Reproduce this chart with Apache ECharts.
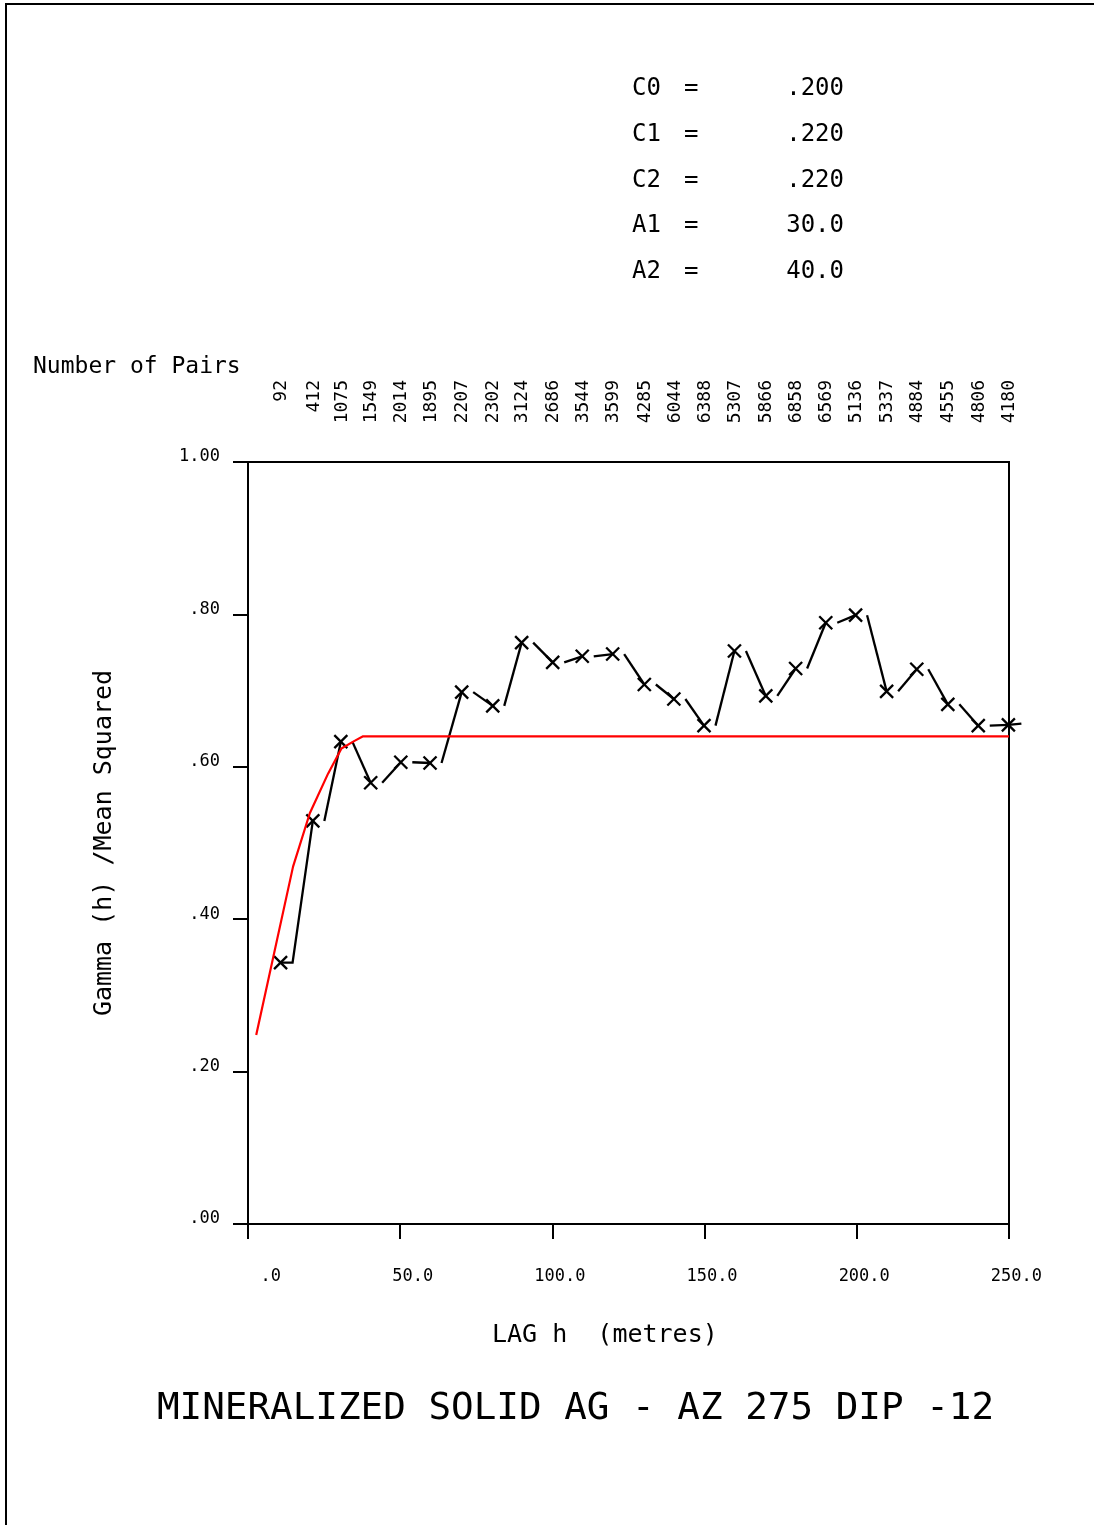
<!DOCTYPE html>
<html>
<head>
<meta charset="utf-8">
<script src="https://cdn.jsdelivr.net/npm/echarts@6/dist/echarts.min.js"></script>
<style>
html,body{margin:0;padding:0;background:#fff;}
#chart{width:1094px;height:1525px;}
</style>
</head>
<body>
<div id="chart"></div>
<script>
// ---- data ----
const lags = [10.7, 21.3, 30.5, 40.3, 50.2, 59.8, 70.2, 80.4, 89.9, 100.1, 109.8, 119.8, 130.2, 139.9, 149.8, 159.8, 170.1, 179.9, 189.8, 199.6, 209.8, 219.7, 229.9, 239.9, 249.8];
const gammas = [0.343, 0.529, 0.633, 0.579, 0.606, 0.605, 0.698, 0.680, 0.763, 0.737, 0.745, 0.748, 0.708, 0.689, 0.654, 0.752, 0.693, 0.729, 0.789, 0.799, 0.699, 0.728, 0.682, 0.654, 0.655];
const pairs = ['92', '412', '1075', '1549', '2014', '1895', '2207', '2302', '3124', '2686', '3544', '3599', '4285', '6044', '6388', '5307', '5866', '6858', '6569', '5136', '5337', '4884', '4555', '4806', '4180'];
const modelLags = [2.7, 14.8, 20.3, 26.3, 30.7, 35.0, 37.8, 250];
const modelGammas = [0.248, 0.469, 0.539, 0.591, 0.624, 0.634, 0.640, 0.640];
const xTickLabels = ['.0', '50.0', '100.0', '150.0', '200.0', '250.0'];
const yTickLabels = ['.00', '.20', '.40', '.60', '.80', '1.00'];
const paramNames = ['C0', 'C1', 'C2', 'A1', 'A2'];
const paramValues = ['.200', '.220', '.220', '30.0', '40.0'];
const titleText = 'MINERALIZED SOLID AG - AZ 275 DIP -12';
const xAxisTitle = 'LAG h  (metres)';
const yAxisTitle = 'Gamma (h) /Mean Squared';
const pairsTitle = 'Number of Pairs';

const FONT = 'DejaVu Sans Mono';
const chart = echarts.init(document.getElementById('chart'));

const pointData = lags.map((l, i) => [l, gammas[i]]);
const modelData = modelLags.map((l, i) => [l, modelGammas[i]]);
const pairData = lags.map((l) => [l, 1]);

const graphics = [
  { type: 'rect', shape: { x: 6, y: 4, width: 1200, height: 1600 }, style: { fill: 'none', stroke: '#000', lineWidth: 2 }, silent: true },
  { type: 'text', left: 33, top: 356, style: { text: pairsTitle, font: '23px "' + FONT + '"', fill: '#000' } },
  { type: 'text', left: 492, top: 1323, style: { text: xAxisTitle, font: '25px "' + FONT + '"', fill: '#000' } },
  { type: 'text', left: 157, top: 1390, style: { text: titleText, font: '37.6px "' + FONT + '"', fill: '#000' } }
];
paramNames.forEach((n, i) => {
  const y = 89 + i * 45.75;
  graphics.push({ type: 'text', x: 632, y: y, style: { text: n, font: '24px "' + FONT + '"', fill: '#000', verticalAlign: 'middle', align: 'left' } });
  graphics.push({ type: 'text', x: 684, y: y, style: { text: '=', font: '24px "' + FONT + '"', fill: '#000', verticalAlign: 'middle', align: 'left' } });
  graphics.push({ type: 'text', x: 844, y: y, style: { text: paramValues[i], font: '24px "' + FONT + '"', fill: '#000', verticalAlign: 'middle', align: 'right' } });
});

const option = {
  backgroundColor: '#fff',
  animation: false,
  textStyle: { fontFamily: FONT, color: '#000' },
  grid: { left: 248, top: 462, right: 85, bottom: 301, show: true, borderColor: '#000', borderWidth: 2, backgroundColor: 'transparent' },
  xAxis: {
    type: 'value', min: 0, max: 250, interval: 50,
    axisLine: { lineStyle: { color: '#000', width: 2 } },
    axisTick: { length: 15, lineStyle: { color: '#000', width: 2 } },
    splitLine: { show: false },
    axisLabel: {
      margin: 44, fontSize: 17, fontFamily: FONT, color: '#000', align: 'center',
      formatter: (v) => '{a|' + xTickLabels[Math.round(v / 50)] + '}',
      rich: { a: { width: 66, align: 'right', fontSize: 17, fontFamily: FONT, color: '#000' } }
    }
  },
  yAxis: {
    type: 'value', min: 0, max: 1, interval: 0.2,
    name: yAxisTitle, nameLocation: 'middle', nameRotate: 90, nameGap: 131,
    nameTextStyle: { fontSize: 25, fontFamily: FONT, color: '#000' },
    axisLine: { show: true, lineStyle: { color: '#000', width: 2 } },
    axisTick: { show: true, length: 15, lineStyle: { color: '#000', width: 2 } },
    splitLine: { show: false },
    axisLabel: {
      margin: 28, fontSize: 17, fontFamily: FONT, color: '#000', verticalAlign: 'bottom', lineHeight: 10,
      formatter: (v) => yTickLabels[Math.round(v / 0.2)]
    }
  },
  series: [
    {
      type: 'custom',
      name: 'experimental',
      data: pointData,
      z: 3,
      clip: false,
      renderItem: function (params, api) {
        const i = params.dataIndex;
        const p = api.coord([api.value(0), api.value(1)]);
        const s = 6.5;
        const st = { stroke: '#000', lineWidth: 2.3, fill: 'none' };
        const children = [
          { type: 'line', shape: { x1: p[0] - s, y1: p[1] - s, x2: p[0] + s, y2: p[1] + s }, style: st },
          { type: 'line', shape: { x1: p[0] - s, y1: p[1] + s, x2: p[0] + s, y2: p[1] - s }, style: st }
        ];
        if (i < lags.length - 1) {
          const q = api.coord([lags[i + 1], gammas[i + 1]]);
          if (i === 0) {
            children.push({ type: 'polyline', shape: { points: [p, [p[0] + 12, p[1]], q] }, style: st });
          } else {
            children.push({ type: 'line', shape: { x1: p[0] + 11.5, y1: p[1], x2: q[0], y2: q[1] }, style: st });
          }
        } else {
          children.push({ type: 'line', shape: { x1: p[0], y1: p[1], x2: p[0] + 13, y2: p[1] - 1.3 }, style: st });
        }
        return { type: 'group', children: children };
      }
    },
    {
      type: 'line',
      name: 'model',
      data: modelData,
      showSymbol: false,
      symbol: 'none',
      z: 4,
      lineStyle: { color: '#ff0000', width: 2.2 },
      itemStyle: { color: '#ff0000' }
    },
    {
      type: 'custom',
      name: 'pairs',
      data: pairData,
      clip: false,
      renderItem: function (params, api) {
        const i = params.dataIndex;
        const p = api.coord([api.value(0), api.value(1)]);
        return {
          type: 'text',
          x: p[0] + 1, y: p[1] - 82,
          rotation: Math.PI / 2,
          style: { text: pairs[i], font: '18px "' + FONT + '"', fill: '#000', align: 'right', verticalAlign: 'middle' }
        };
      }
    }
  ],
  graphic: graphics
};
chart.setOption(option);
</script>
</body>
</html>
